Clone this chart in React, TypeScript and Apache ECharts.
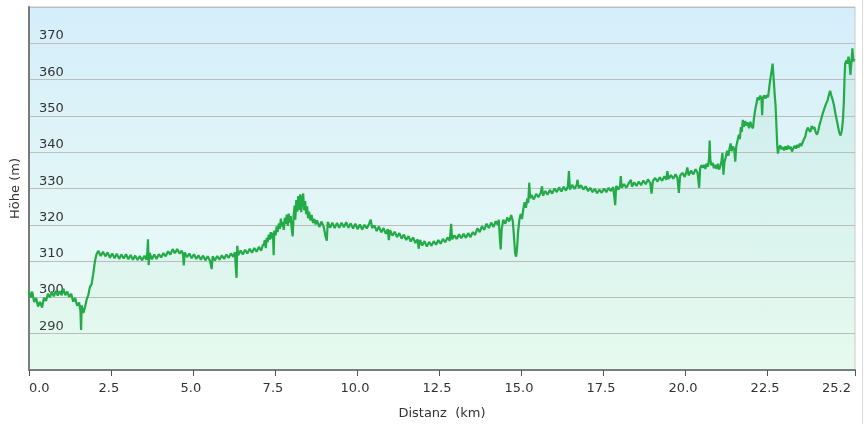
import React, { useEffect, useRef } from "react";
import * as echarts from "echarts";

// Elevation profile: [distance km, elevation m]
const profile: [number, number][] = [
  [0.00, 301.8], [0.05, 299.9], [0.10, 301.6], [0.16, 298.7], [0.22, 299.8], [0.28, 297.5], [0.34, 298.8], [0.40, 297.2],
  [0.46, 299.9], [0.52, 299.0], [0.58, 301.0], [0.64, 300.0], [0.70, 301.6], [0.76, 300.3], [0.82, 301.8], [0.88, 300.5],
  [0.94, 301.7], [1.00, 300.6], [1.05, 302.4], [1.11, 300.6], [1.17, 301.6], [1.23, 300.1], [1.29, 301.0], [1.35, 298.8],
  [1.41, 299.8], [1.47, 297.7], [1.53, 298.6], [1.57, 296.4], [1.59, 291.0], [1.61, 297.8], [1.66, 295.7], [1.71, 297.3],
  [1.76, 299.4], [1.81, 300.6], [1.86, 302.9], [1.91, 303.6], [1.96, 306.4], [2.01, 309.8], [2.06, 311.9],
  [2.12, 312.8], [2.19, 311.4], [2.26, 312.6], [2.33, 311.3], [2.40, 312.4], [2.47, 310.9], [2.54, 312.1], [2.61, 310.8],
  [2.68, 312.0], [2.75, 310.6], [2.82, 311.8], [2.89, 310.7], [2.96, 311.9], [3.03, 310.5], [3.10, 311.7], [3.17, 310.4],
  [3.24, 311.5], [3.31, 310.3], [3.38, 311.4], [3.45, 310.2], [3.52, 311.5], [3.58, 310.4], [3.61, 312.6], [3.63, 316.0],
  [3.65, 308.9], [3.68, 312.3], [3.75, 310.5], [3.82, 311.8], [3.89, 310.6], [3.96, 311.9], [4.03, 311.0], [4.10, 312.2],
  [4.17, 311.3], [4.24, 312.7], [4.31, 311.8], [4.38, 313.3], [4.45, 312.2], [4.52, 313.3], [4.59, 312.1], [4.66, 312.9],
  [4.70, 311.6], [4.72, 308.8], [4.75, 312.4], [4.82, 311.1], [4.89, 312.1], [4.96, 310.8], [5.03, 311.9], [5.10, 310.6],
  [5.17, 311.6], [5.24, 310.4], [5.31, 311.5], [5.38, 310.2], [5.45, 311.3], [5.52, 310.1], [5.57, 307.8], [5.60, 311.3],
  [5.67, 310.2], [5.74, 311.4], [5.81, 310.4], [5.88, 311.6], [5.95, 310.6], [6.02, 311.8], [6.09, 310.9], [6.16, 312.1],
  [6.23, 311.2], [6.28, 312.5], [6.31, 307.6], [6.33, 305.4], [6.35, 314.2], [6.38, 311.6], [6.45, 312.9], [6.52, 311.8],
  [6.59, 313.1], [6.66, 312.1], [6.73, 313.4], [6.80, 312.3], [6.87, 313.6], [6.94, 312.6], [7.01, 313.9], [7.08, 312.9],
  [7.13, 314.4],
  [7.16, 314.5], [7.19, 315.8], [7.22, 313.6], [7.25, 316.4], [7.28, 315.2], [7.31, 317.3], [7.34, 315.9], [7.37, 318.0],
  [7.40, 316.2], [7.44, 317.8], [7.46, 311.6], [7.48, 318.4], [7.52, 317.1], [7.55, 319.6], [7.58, 318.0], [7.62, 320.4],
  [7.65, 318.9], [7.68, 321.7], [7.71, 319.5], [7.74, 320.8], [7.77, 318.6], [7.80, 321.9], [7.83, 320.3], [7.86, 322.8],
  [7.89, 319.7], [7.92, 323.1], [7.95, 320.6], [7.98, 322.4], [8.01, 318.9], [8.04, 316.8], [8.07, 322.6], [8.10, 325.3],
  [8.12, 321.4], [8.15, 326.8], [8.18, 323.6], [8.21, 327.9], [8.24, 324.1], [8.27, 328.4], [8.30, 323.5], [8.33, 327.2],
  [8.36, 328.6], [8.39, 324.0], [8.42, 326.5], [8.45, 322.9], [8.48, 325.1], [8.51, 321.8], [8.54, 323.6], [8.58, 321.2],
  [8.62, 322.7], [8.66, 320.5], [8.70, 321.6], [8.74, 320.1],
  [8.78, 321.2], [8.85, 319.4], [8.92, 320.9], [8.99, 319.3], [9.04, 316.9], [9.08, 315.6], [9.11, 320.8], [9.18, 319.2],
  [9.25, 320.6], [9.32, 319.1], [9.39, 320.5], [9.46, 319.2], [9.53, 320.6], [9.60, 319.3], [9.67, 320.7], [9.74, 319.2],
  [9.81, 320.4], [9.88, 319.0], [9.95, 320.3], [10.02, 318.8], [10.09, 320.1], [10.16, 318.7], [10.23, 320.0], [10.30, 319.0],
  [10.37, 320.3], [10.42, 321.4], [10.46, 319.1], [10.53, 319.8], [10.60, 318.3], [10.67, 319.5], [10.74, 317.9], [10.81, 319.1],
  [10.88, 317.5], [10.94, 318.8], [10.97, 315.8], [11.01, 318.5], [11.08, 317.0], [11.15, 318.1], [11.22, 316.6], [11.29, 317.7],
  [11.36, 316.2], [11.43, 317.3], [11.50, 315.8], [11.57, 316.9], [11.64, 315.4], [11.71, 316.5], [11.78, 315.0], [11.85, 316.0],
  [11.88, 313.4], [11.92, 315.8], [11.99, 314.3], [12.06, 315.5], [12.13, 314.0], [12.20, 315.3], [12.27, 314.2], [12.34, 315.5],
  [12.41, 314.5], [12.48, 315.8], [12.55, 314.8], [12.62, 316.1], [12.69, 315.2], [12.76, 316.5], [12.83, 315.6], [12.87, 320.3],
  [12.90, 316.0], [12.97, 317.1], [13.04, 316.1], [13.11, 317.4], [13.18, 316.3], [13.25, 317.5], [13.32, 316.4], [13.39, 317.7],
  [13.46, 316.6], [13.53, 318.0], [13.60, 317.2], [13.67, 319.0], [13.74, 318.0], [13.81, 319.6], [13.88, 318.6], [13.95, 320.3],
  [14.02, 319.1], [14.09, 320.6], [14.16, 319.4], [14.23, 321.0], [14.29, 320.0], [14.32, 321.4], [14.35, 317.2], [14.38, 313.2],
  [14.41, 318.8], [14.46, 321.4], [14.52, 320.3], [14.58, 322.0], [14.64, 320.9], [14.70, 322.7], [14.75, 321.0], [14.79, 316.2],
  [14.82, 312.2], [14.85, 311.2], [14.88, 313.6], [14.91, 318.0], [14.95, 321.4], [14.99, 323.0], [15.03, 321.6], [15.07, 324.4],
  [15.11, 326.2], [15.15, 324.7], [15.19, 327.2], [15.22, 326.0], [15.25, 331.6], [15.28, 327.3], [15.32, 328.2],
  [15.39, 327.0], [15.46, 328.5], [15.53, 327.6], [15.60, 328.8], [15.64, 330.6], [15.67, 328.0], [15.74, 329.3], [15.81, 328.3],
  [15.88, 329.6], [15.95, 328.6], [16.02, 330.0], [16.09, 329.0], [16.16, 330.3], [16.23, 329.2], [16.30, 330.5], [16.37, 329.4],
  [16.43, 330.7], [16.46, 334.8], [16.49, 329.7], [16.56, 331.0], [16.63, 329.9], [16.70, 331.1], [16.72, 332.4], [16.76, 330.1],
  [16.83, 330.9], [16.90, 329.7], [16.97, 330.6], [17.04, 329.3], [17.11, 330.2], [17.18, 329.0], [17.25, 329.9], [17.32, 328.7],
  [17.39, 329.7], [17.46, 328.8], [17.53, 330.0], [17.60, 329.0], [17.67, 330.2], [17.74, 329.3], [17.81, 330.4], [17.87, 325.4],
  [17.90, 330.7], [17.97, 329.7], [18.02, 330.8], [18.04, 333.4], [18.07, 330.2], [18.14, 331.2], [18.21, 330.2], [18.28, 331.4],
  [18.35, 332.4], [18.38, 330.5], [18.45, 331.7], [18.52, 330.7], [18.59, 331.9], [18.66, 330.9], [18.73, 332.2], [18.80, 331.2],
  [18.87, 332.5], [18.94, 331.5], [18.98, 328.6], [19.02, 332.1], [19.09, 332.9], [19.16, 331.9], [19.23, 333.1], [19.30, 332.1],
  [19.37, 333.4], [19.43, 332.4], [19.46, 334.8], [19.50, 332.6], [19.57, 333.7], [19.64, 332.7], [19.71, 333.9], [19.77, 332.8],
  [19.81, 328.8], [19.85, 333.6], [19.92, 334.3], [19.99, 333.2], [20.04, 334.6], [20.07, 335.8], [20.11, 333.6], [20.18, 334.9],
  [20.25, 333.9], [20.32, 335.3], [20.38, 334.4], [20.43, 330.2], [20.46, 335.6],
  [20.50, 336.4], [20.54, 335.7], [20.58, 336.5], [20.62, 335.4], [20.66, 336.9], [20.70, 336.0], [20.73, 338.2], [20.75, 343.2],
  [20.77, 338.0], [20.80, 336.4], [20.84, 337.1], [20.88, 335.6], [20.92, 336.5], [20.96, 335.4], [21.00, 336.8], [21.04, 335.2],
  [21.08, 336.4], [21.11, 337.6], [21.14, 339.8], [21.17, 333.8], [21.20, 337.2], [21.24, 338.6], [21.28, 340.4], [21.32, 339.0],
  [21.36, 341.2], [21.39, 342.4], [21.42, 340.3], [21.46, 341.6], [21.50, 340.8], [21.53, 337.4], [21.56, 341.6], [21.60, 343.2],
  [21.64, 344.8], [21.67, 343.6], [21.70, 346.9], [21.73, 345.6], [21.76, 348.9], [21.79, 347.0], [21.83, 348.6], [21.87, 347.3],
  [21.91, 348.2], [21.95, 346.6], [21.99, 348.4], [22.03, 347.1], [22.07, 346.6], [22.10, 349.4], [22.14, 351.8], [22.18, 353.6],
  [22.21, 355.1], [22.25, 354.4], [22.29, 355.6], [22.33, 354.7], [22.35, 350.2], [22.37, 354.9], [22.41, 355.6], [22.45, 354.8],
  [22.49, 355.7], [22.53, 355.2], [22.57, 358.2], [22.61, 360.8], [22.64, 362.6], [22.67, 364.4], [22.70, 360.4], [22.73, 356.2],
  [22.76, 352.6], [22.79, 346.2], [22.81, 341.8], [22.83, 339.6], [22.86, 341.2], [22.90, 341.9], [22.94, 340.8], [22.98, 341.4],
  [23.02, 340.5], [23.06, 341.6], [23.10, 340.7], [23.14, 341.8], [23.18, 340.9], [23.22, 341.5], [23.26, 340.2], [23.30, 341.1],
  [23.34, 341.8], [23.38, 341.0], [23.42, 342.0], [23.46, 341.3], [23.50, 342.4], [23.54, 341.7], [23.58, 342.6], [23.62, 343.5],
  [23.66, 344.2], [23.70, 345.8], [23.74, 346.8], [23.78, 346.1], [23.82, 345.6], [23.86, 347.2], [23.90, 346.4], [23.94, 346.9],
  [23.98, 345.6], [24.02, 344.8], [24.06, 345.9], [24.10, 347.6], [24.14, 348.8], [24.18, 350.2], [24.22, 351.3], [24.26, 352.4],
  [24.30, 353.4], [24.34, 354.2], [24.38, 355.6], [24.42, 356.9], [24.46, 355.6], [24.50, 354.4], [24.54, 352.9], [24.58, 350.8],
  [24.62, 349.0], [24.66, 347.2], [24.70, 345.4], [24.74, 344.6], [24.78, 346.0], [24.81, 348.6], [24.84, 353.8], [24.86, 360.2],
  [24.88, 364.4], [24.92, 365.3], [24.95, 364.4], [24.98, 366.3], [25.01, 364.9], [25.04, 361.3], [25.07, 364.6], [25.10, 368.6],
  [25.13, 365.0], [25.16, 365.8],
];

const xTickValues = [0, 2.5, 5, 7.5, 10, 12.5, 15, 17.5, 20, 22.5, 25.18];
const xMax = 25.18;
const yMin = 280;
const yMax = 380;
const yInterval = 10;
const xAxisName = "Distanz  (km)";
const yAxisName = "Höhe (m)";

const FONT = "DejaVu Sans, Verdana, sans-serif";

export default function App() {
  const ref = useRef<HTMLDivElement>(null);

  useEffect(() => {
    if (!ref.current) return;
    const chart = echarts.init(ref.current, null, { renderer: "svg" });
    chart.setOption({
      animation: false,
      textStyle: { fontFamily: FONT },
      grid: {
        left: 27,
        top: 7,
        right: 11,
        bottom: 53,
        show: true,
        borderColor: "#c9c9c9",
        borderWidth: 1,
        backgroundColor: {
          type: "linear",
          x: 0,
          y: 0,
          x2: 0,
          y2: 1,
          colorStops: [
            { offset: 0, color: "#d4eefa" },
            { offset: 1, color: "#effdf5" },
          ],
        },
      },
      graphic: [
        {
          type: "line",
          shape: { x1: 862.5, y1: 0, x2: 862.5, y2: 424 },
          style: { stroke: "#dcdcdc", lineWidth: 1 },
          silent: true,
        },
      ],
      xAxis: {
        type: "value",
        min: 0,
        max: xMax,
        name: xAxisName,
        nameLocation: "middle",
        nameGap: 36,
        nameTextStyle: { fontFamily: FONT, fontSize: 13, color: "#333" },
        axisLine: { show: true, onZero: false, lineStyle: { color: "#7a7a7a", width: 2 } },
        axisTick: {
          show: true,
          length: 6,
          customValues: xTickValues,
          lineStyle: { color: "#555", width: 1 },
        },
        axisLabel: {
          customValues: xTickValues,
          formatter: (v: number) => v.toFixed(1),
          fontFamily: FONT,
          fontSize: 13,
          color: "#333",
          margin: 11,
          padding: [0, 4, 0, 0],
          alignMinLabel: "left",
          alignMaxLabel: "right",
          showMinLabel: true,
          showMaxLabel: true,
        },
        splitLine: { show: false },
      },
      yAxis: {
        type: "value",
        min: yMin,
        max: yMax,
        interval: yInterval,
        name: yAxisName,
        nameLocation: "middle",
        nameGap: 7,
        nameRotate: 90,
        nameTextStyle: { fontFamily: FONT, fontSize: 13, color: "#333" },
        axisLine: { show: true, lineStyle: { color: "#7a7a7a", width: 2 } },
        axisTick: { show: false },
        axisLabel: {
          inside: true,
          margin: 10,
          fontFamily: FONT,
          fontSize: 13,
          color: "#333",
          verticalAlign: "bottom",
          padding: [0, 0, 2, 0],
          showMinLabel: false,
          showMaxLabel: false,
        },
        splitLine: { show: true, lineStyle: { color: "#bdbdbd", width: 1 } },
      },
      series: [
        {
          type: "line",
          data: profile,
          showSymbol: false,
          symbol: "none",
          lineStyle: { color: "#22ab46", width: 2.2 },
          areaStyle: {
            color: {
              type: "linear",
              x: 0,
              y: 0,
              x2: 0,
              y2: 1,
              colorStops: [
                { offset: 0, color: "rgba(120,210,150,0.16)" },
                { offset: 1, color: "rgba(120,210,150,0.10)" },
              ],
            },
            origin: "start",
          },
          z: 3,
        },
      ],
    });
    return () => chart.dispose();
  }, []);

  return (
    <div
      ref={ref}
      style={{ position: "fixed", left: 0, top: 0, width: 866, height: 424 }}
    />
  );
}
